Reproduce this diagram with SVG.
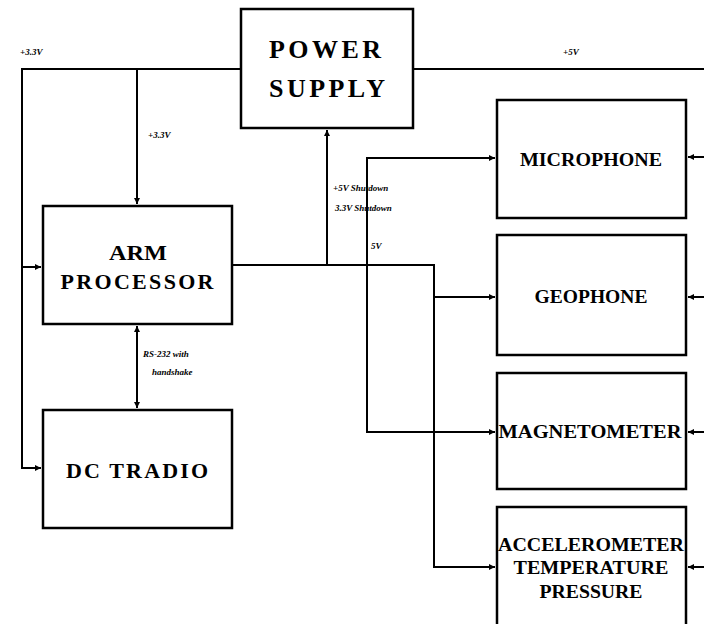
<svg xmlns="http://www.w3.org/2000/svg" width="704" height="624" viewBox="0 0 704 624">
<style>
.box{fill:#fff;stroke:#000;stroke-width:2.5}
.ln{fill:none;stroke:#000;stroke-width:2}
text{font-family:"Liberation Serif","DejaVu Serif","Times New Roman",serif;font-weight:bold}
.big{font-size:26px;text-anchor:middle}
.mid{font-size:22px;text-anchor:middle}
.sm{font-size:18px;text-anchor:middle}
.lab{font-style:italic;font-size:9px}
</style>
<defs>
<marker id="ah" viewBox="0 0 10 10" refX="10" refY="5" markerWidth="6" markerHeight="6" orient="auto-start-reverse" markerUnits="userSpaceOnUse">
<path d="M0,0 L10,5 L0,10 z" fill="#000"/>
</marker>
</defs>
<rect width="704" height="624" fill="#fff"/>
<g id="connectors">
<polyline class="ln" points="241,69 22,69 22,267 41,267" marker-end="url(#ah)"/>
<polyline class="ln" points="22,267 22,468 41,468" marker-end="url(#ah)"/>
<line class="ln" x1="137" y1="69" x2="137" y2="204" marker-end="url(#ah)"/>
<line class="ln" x1="413" y1="69" x2="704" y2="69"/>
<line class="ln" x1="137" y1="326" x2="137" y2="408" marker-start="url(#ah)" marker-end="url(#ah)"/>
<polyline class="ln" points="232,265 434,265 434,567 495,567" marker-end="url(#ah)"/>
<line class="ln" x1="327" y1="265" x2="327" y2="130" marker-end="url(#ah)"/>
<line class="ln" x1="434" y1="297" x2="495" y2="297" marker-end="url(#ah)"/>
<polyline class="ln" points="495,158 367,158 367,432 495,432" marker-start="url(#ah)" marker-end="url(#ah)"/>
<line class="ln" x1="704" y1="157" x2="688" y2="157" marker-end="url(#ah)"/>
<line class="ln" x1="704" y1="297" x2="688" y2="297" marker-end="url(#ah)"/>
<line class="ln" x1="704" y1="432" x2="688" y2="432" marker-end="url(#ah)"/>
<line class="ln" x1="704" y1="567" x2="688" y2="567" marker-end="url(#ah)"/>
<text class="lab" x="20" y="55">+3.3V</text>
<text class="lab" x="148" y="138">+3.3V</text>
<text class="lab" x="563" y="55">+5V</text>
<text class="lab" x="333" y="191">+5V Shutdown</text>
<text class="lab" x="335" y="211">3.3V Shutdown</text>
<text class="lab" x="371" y="249">5V</text>
<text class="lab" x="143" y="357">RS-232 with</text>
<text class="lab" x="152" y="375">handshake</text>
</g>
<g id="power">
<rect class="box" x="241" y="9" width="172" height="119"/>
<text class="big" x="325" y="58" textLength="112" lengthAdjust="spacing">POWER</text>
<text class="big" x="327" y="97" textLength="116" lengthAdjust="spacing">SUPPLY</text>
</g>
<g id="arm">
<rect class="box" x="43" y="206" width="189" height="118"/>
<text class="mid" x="138" y="260" textLength="58" lengthAdjust="spacingAndGlyphs">ARM</text>
<text class="mid" x="137" y="289" textLength="153" lengthAdjust="spacing">PROCESSOR</text>
</g>
<g id="radio">
<rect class="box" x="43" y="410" width="189" height="118"/>
<text class="mid" x="137" y="478" textLength="142" lengthAdjust="spacing">DC TRADIO</text>
</g>
<g id="microphone">
<rect class="box" x="497" y="100" width="189" height="118"/>
<text class="sm" x="591" y="166" textLength="142" lengthAdjust="spacingAndGlyphs">MICROPHONE</text>
</g>
<g id="geophone">
<rect class="box" x="497" y="235" width="189" height="120"/>
<text class="sm" x="591" y="303" textLength="113" lengthAdjust="spacingAndGlyphs">GEOPHONE</text>
</g>
<g id="magnetometer">
<rect class="box" x="497" y="373" width="189" height="116"/>
<text class="sm" x="590" y="438" textLength="183" lengthAdjust="spacingAndGlyphs">MAGNETOMETER</text>
</g>
<g id="accelerometer">
<rect class="box" x="497" y="507" width="189" height="130"/>
<text class="sm" x="591" y="551" textLength="186" lengthAdjust="spacingAndGlyphs">ACCELEROMETER</text>
<text class="sm" x="591" y="574" textLength="155" lengthAdjust="spacingAndGlyphs">TEMPERATURE</text>
<text class="sm" x="591" y="598" textLength="103" lengthAdjust="spacingAndGlyphs">PRESSURE</text>
</g>
</svg>
